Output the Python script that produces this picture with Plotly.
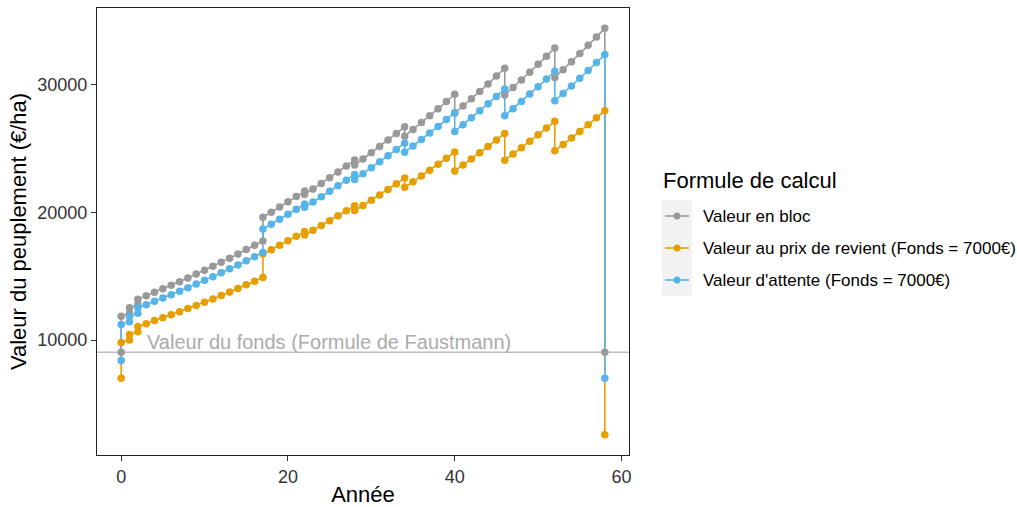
import plotly.graph_objects as go

# Years (duplicated at management events: value before / after the cash flow)
years = [0, 0, 1, 1, 2, 2, 3, 4, 5, 6, 7, 8, 9, 10, 11, 12, 13, 14, 15, 16, 17, 17,
         18, 19, 20, 21, 22, 22, 23, 24, 25, 26, 27, 28, 28, 29, 30, 31, 32, 33, 34, 34,
         35, 36, 37, 38, 39, 40, 40, 41, 42, 43, 44, 45, 46, 46, 47, 48, 49, 50, 51, 52, 52,
         53, 54, 55, 56, 57, 58, 58]

valeur_bloc = [9050, 11860, 12090, 12520, 12780, 13200, 13460, 13730, 14010, 14280, 14570,
               14860, 15160, 15460, 15770, 16080, 16410, 16740, 17080, 17410, 17760, 19610,
               20000, 20410, 20820, 21230, 21660, 21400, 21830, 22260, 22710, 23160, 23620,
               24090, 23700, 24170, 24660, 25150, 25660, 26170, 26690, 25960, 26480, 27020,
               27550, 28100, 28670, 29240, 27770, 28320, 28880, 29460, 30050, 30660, 31270,
               29180, 29760, 30350, 30970, 31580, 32220, 32860, 30550, 31160, 31780, 32420,
               33070, 33730, 34400, 9050]

valeur_revient = [7000, 9810, 10000, 10430, 10640, 11060, 11280, 11520, 11740, 11970, 12210,
                  12460, 12710, 12960, 13220, 13490, 13760, 14030, 14320, 14600, 14890, 16740,
                  17070, 17420, 17770, 18120, 18490, 18230, 18590, 18960, 19340, 19730, 20120,
                  20520, 20130, 20530, 20940, 21360, 21790, 22230, 22680, 21950, 22380, 22830,
                  23290, 23750, 24230, 24710, 23240, 23710, 24170, 24660, 25150, 25660, 26170,
                  24080, 24560, 25050, 25560, 26060, 26590, 27120, 24810, 25300, 25810, 26330,
                  26860, 27390, 27940, 2590]

valeur_attente = [8400, 11210, 11430, 11860, 12100, 12520, 12770, 13030, 13290, 13550, 13820,
                  14100, 14380, 14670, 14960, 15260, 15570, 15880, 16200, 16520, 16850, 18700,
                  19070, 19460, 19850, 20240, 20650, 20390, 20800, 21210, 21640, 22070, 22510,
                  22960, 22570, 23020, 23480, 23950, 24430, 24920, 25420, 24690, 25180, 25690,
                  26200, 26720, 27260, 27800, 26330, 26860, 27390, 27940, 28500, 29070, 29650,
                  27560, 28110, 28670, 29250, 29830, 30430, 31040, 28730, 29300, 29890, 30490,
                  31100, 31720, 32350, 7000]

fonds_faustmann = 9050

series_names = ["Valeur en bloc",
                "Valeur au prix de revient (Fonds = 7000€)",
                "Valeur d'attente (Fonds = 7000€)"]
series_values = [valeur_bloc, valeur_revient, valeur_attente]
series_colors = ["#999999", "#E69F00", "#56B4E9"]

FONT = "Liberation Sans, Arial, sans-serif"

# plot-area geometry in pixels (for legend placement in paper coords)
L, R, T, B = 97, 629, 8, 455
W, H = R - L, B - T


def px(xp):
    return (xp - L) / W


def py(yp):
    return (B - yp) / H


fig = go.Figure()

# lines first (like geom_line), then points (geom_point) on top
for name, vals, col in zip(series_names, series_values, series_colors):
    fig.add_trace(go.Scatter(x=years, y=vals, mode="lines",
                             line=dict(color=col, width=1.6),
                             showlegend=False, hoverinfo="skip"))
for name, vals, col in zip(series_names, series_values, series_colors):
    fig.add_trace(go.Scatter(x=years, y=vals, mode="markers",
                             marker=dict(color=col, size=7.5),
                             showlegend=False, name=name))

fig.add_hline(y=fonds_faustmann, line=dict(color="#BDBDBD", width=1.5), layer="below")
fig.add_annotation(x=2.8, y=fonds_faustmann, xref="x", yref="y",
                   text="Valeur du fonds (Formule de Faustmann)", showarrow=False,
                   xanchor="left", yanchor="bottom", yshift=-3,
                   font=dict(family=FONT, size=20, color="#ABABAB"))

# ---- legend (drawn manually for exact spacing) ----
fig.add_annotation(x=px(661), y=py(181), xref="paper", yref="paper",
                   text="Formule de calcul", showarrow=False, xanchor="left",
                   yanchor="middle", font=dict(family=FONT, size=22, color="black"))
fig.add_shape(type="rect", xref="paper", yref="paper",
              x0=px(662), x1=px(692), y0=py(296), y1=py(200),
              fillcolor="#F2F2F2", line=dict(width=0), layer="below")
item_y = [216, 248, 280]
for name, col, yy in zip(series_names, series_colors, item_y):
    fig.add_shape(type="line", xref="paper", yref="paper",
                  x0=px(665), x1=px(689), y0=py(yy), y1=py(yy),
                  line=dict(color=col, width=1.6))
    fig.add_shape(type="circle", xref="paper", yref="paper",
                  x0=px(673.5), x1=px(680.5), y0=py(yy + 3.5), y1=py(yy - 3.5),
                  fillcolor=col, line=dict(width=0))
    fig.add_annotation(x=px(701), y=py(yy), xref="paper", yref="paper",
                       text=name, showarrow=False, xanchor="left", yanchor="middle",
                       font=dict(family=FONT, size=17, color="black"))

axis_common = dict(showgrid=False, zeroline=False, showline=True, linecolor="#222222",
                   linewidth=1, mirror=True, ticks="outside", ticklen=5,
                   tickcolor="#333333", tickwidth=1, tickformat="d",
                   tickfont=dict(family=FONT, size=18, color="#333333"))

fig.update_xaxes(range=[-2.9, 60.9], tickvals=[0, 20, 40, 60],
                 title=dict(text="Année", font=dict(family=FONT, size=22, color="black"),
                            standoff=3), **axis_common)
fig.update_yaxes(range=[999.5, 35990.5], tickvals=[10000, 20000, 30000],
                 title=dict(text="Valeur du peuplement (€/ha)",
                            font=dict(family=FONT, size=22, color="black"), standoff=4),
                 **axis_common)

fig.update_layout(
    width=1017, height=507,
    margin=dict(l=L, r=1017 - R, t=T, b=507 - B, autoexpand=False),
    plot_bgcolor="white", paper_bgcolor="white",
    font=dict(family=FONT, color="black"),
    showlegend=False,
)

fig.write_html("out.html")
